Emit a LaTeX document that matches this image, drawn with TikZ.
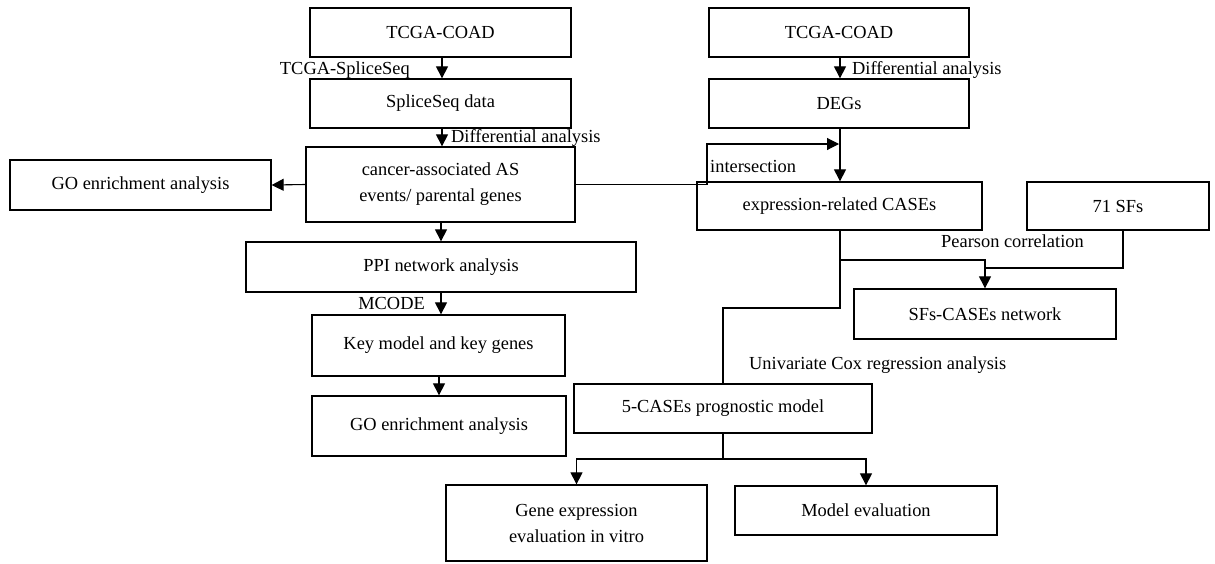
\documentclass[tikz,border=0pt]{standalone}
\usepackage{fontspec}
\setmainfont{Liberation Serif}
\usetikzlibrary{arrows.meta}
\begin{document}
\begin{tikzpicture}[x=1pt,y=-1pt,
  font=\fontsize{18.4}{26}\selectfont,
  box/.style={draw, line width=1.3pt, inner sep=0pt, align=center},
  conn/.style={line width=1.1pt},
  arr/.style={conn, -{Triangle[length=12pt,width=12pt]}},
  lbl/.style={inner sep=0pt}]
\useasboundingbox (0,0) rectangle (1215,563);
% left column
\node[box, minimum width=261pt, minimum height=49pt] (tcga1) at (440.5,32.5) {TCGA-COAD};
\node[box, minimum width=261pt, minimum height=49pt] (splice) at (440.5,103.5) {SpliceSeq data};
\node[box, minimum width=269pt, minimum height=75pt] (cancer) at (440.5,184.5) {cancer-associated AS\\events/ parental genes};
\node[box, minimum width=261pt, minimum height=50pt] (go1) at (140.5,185) {GO enrichment analysis};
\node[box, minimum width=390pt, minimum height=50pt] (ppi) at (441,267) {PPI network analysis};
\node[box, minimum width=253pt, minimum height=61pt] (key) at (438.5,345.5) {Key model and key genes};
\node[box, minimum width=254pt, minimum height=60pt] (go2) at (439,426) {GO enrichment analysis};
% right column
\node[box, minimum width=260pt, minimum height=49pt] (tcga2) at (839,32.5) {TCGA-COAD};
\node[box, minimum width=260pt, minimum height=49pt] (degs) at (839,103.5) {DEGs};
\node[box, minimum width=285pt, minimum height=48pt] (expr) at (839.5,206) {expression-related CASEs};
\node[box, minimum width=182pt, minimum height=48pt] (sfs) at (1118,206) {71 SFs};
\node[box, minimum width=262pt, minimum height=50pt] (net) at (985,314) {SFs-CASEs network};
\node[box, minimum width=298pt, minimum height=49pt] (five) at (723,408.5) {5-CASEs prognostic model};
\node[box, minimum width=261pt, minimum height=76pt] (gene) at (576.5,523) {Gene expression\\evaluation in vitro};
\node[box, minimum width=262pt, minimum height=49pt] (model) at (866,510.5) {Model evaluation};
% labels
\node[lbl, anchor=east] (l1) at (410,70) {TCGA-SpliceSeq};
\node[lbl, anchor=west] (l2) at (451,138) {Differential analysis};
\node[lbl, anchor=east] (l3) at (425,303) {MCODE};
\node[lbl, anchor=west] (l4) at (852,70) {Differential analysis};
\node[lbl, anchor=west] (l5) at (710,166) {intersection};
\node[lbl, anchor=west] (l6) at (941,241) {Pearson correlation};
\node[lbl, anchor=west] (l7) at (749,365) {Univariate Cox regression analysis};
% coordinates
\coordinate (i2) at (707,144);
\coordinate (c1) at (840,308);
\coordinate (c2) at (723,308);
\coordinate (b1) at (840,260);
\coordinate (s1) at (1123,268);
\coordinate (f1) at (723,459);
% connectors left
\draw[arr] (tcga1.south -| 442,0) -- (splice.north -| 442,0);
\draw[arr] (splice.south -| 442,0) -- (cancer.north -| 442,0);
\draw[arr] (cancer.west) -- (go1.east);
\draw[arr] (cancer.south -| 441,0) -- (ppi.north -| 441,0);
\draw[arr] (ppi.south -| 441,0) -- (key.north -| 441,0);
\draw[arr] (key.south -| 439,0) -- (go2.north -| 439,0);
% connectors right
\draw[arr] (tcga2.south -| 840,0) -- (degs.north -| 840,0);
\draw[arr] (degs.south -| 840,0) -- (expr.north -| 840,0);
\draw[arr] (cancer.east) -| (i2) -- (i2 -| 839,0);
\draw[conn] (expr.south -| c1) -- (c1) -- (c2) -- (five.north);
\draw[arr] (b1) -| (net.north);
\draw[conn] (sfs.south -| s1) -- (s1) -- (s1 -| net.north);
\draw[conn] (five.south) -- (f1);
\draw[arr] (f1) -| (gene.north);
\draw[arr] (f1) -| (model.north);
\end{tikzpicture}
\end{document}
